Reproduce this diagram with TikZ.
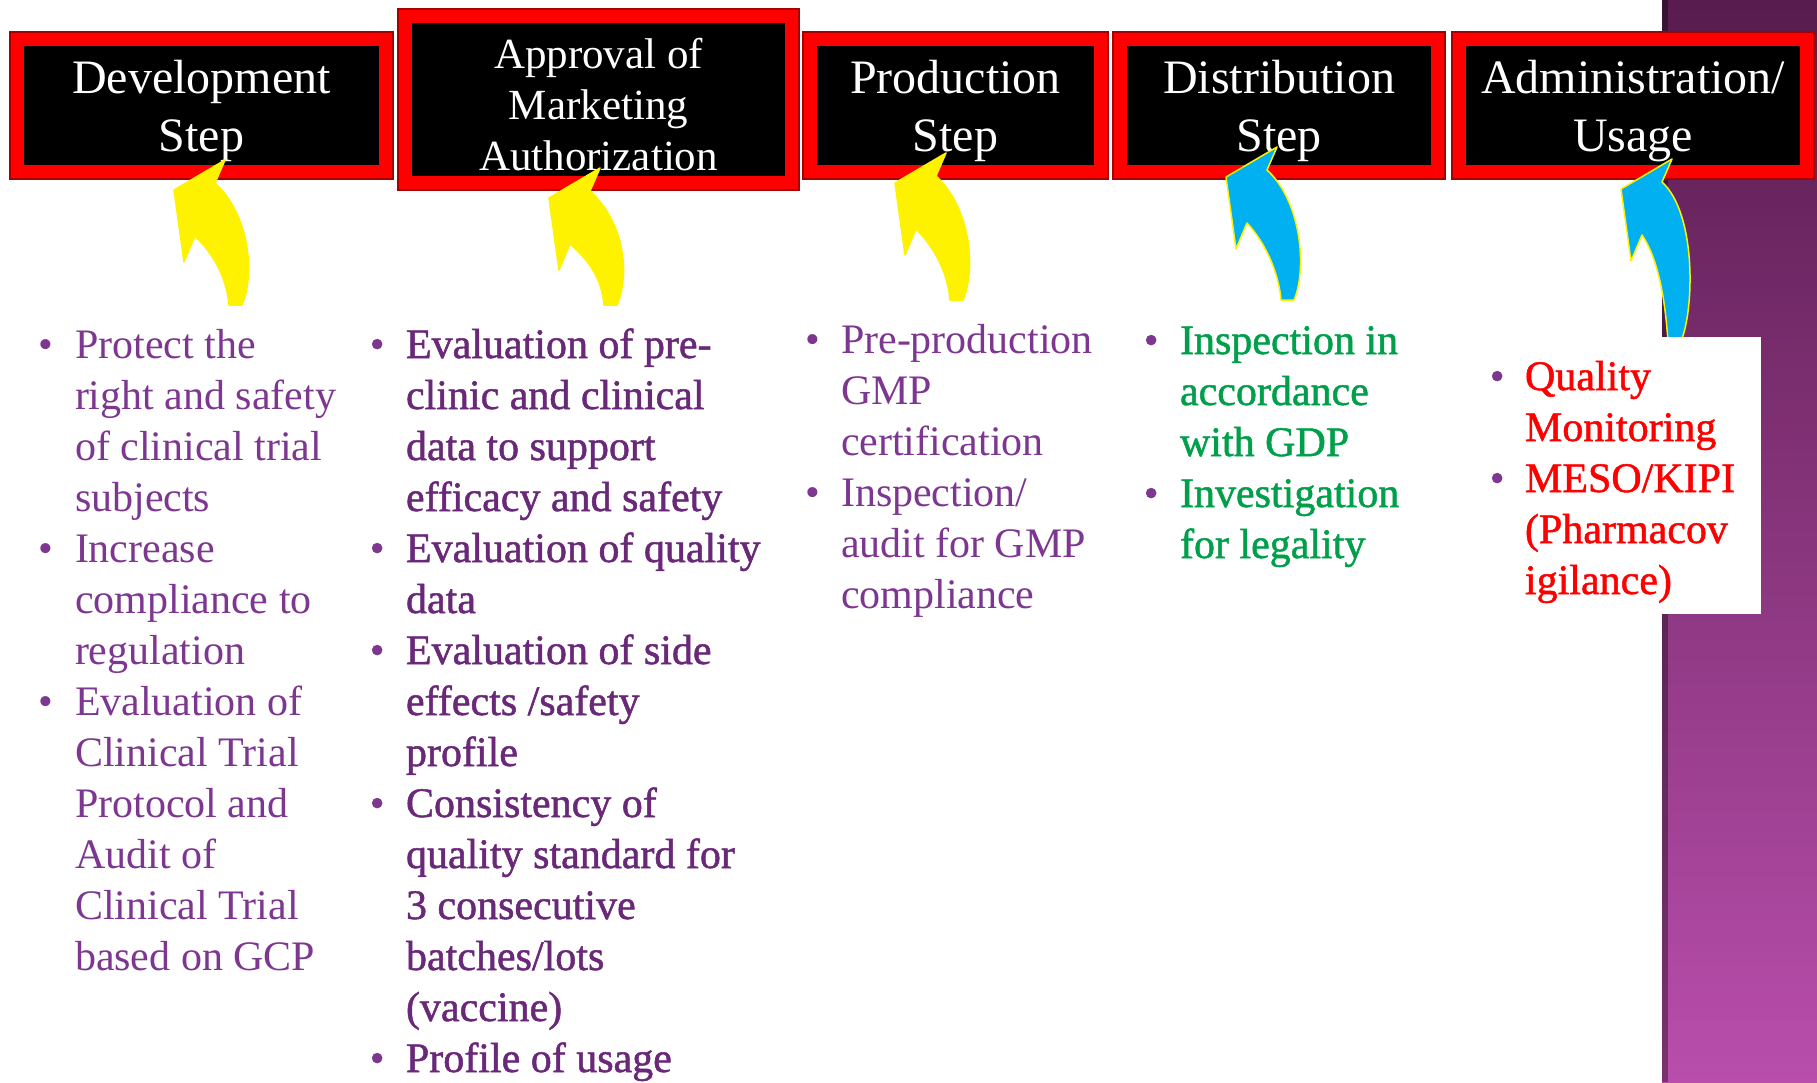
\documentclass[tikz,border=0pt]{standalone}
\usepackage{fontspec}
\setmainfont{Liberation Serif}
\newfontfamily\heavyfont[FakeBold=1.2]{Liberation Serif}

\definecolor{txtpurple}{RGB}{125,55,145}
\definecolor{darkpurple}{RGB}{105,40,120}
\definecolor{gdpgreen}{RGB}{0,160,75}
\definecolor{cyanarrow}{RGB}{0,176,240}
\definecolor{bandtop}{RGB}{88,28,78}
\definecolor{bandmid}{RGB}{130,50,118}
\definecolor{bandbot}{RGB}{185,78,172}

\newcommand{\itm}{{\color{txtpurple}\textbullet}}
\newcommand{\hstrut}[1]{\rule{0pt}{#1}}

\tikzstyle{hdr}  = [draw=red, line width=13pt, fill=black, inner sep=0pt, text=white, align=center,
                    font=\fontsize{48}{58}\selectfont, preaction={draw=red!65!black, line width=17pt}]
\tikzstyle{col}  = [inner sep=0pt, anchor=base west, font=\fontsize{42}{51}\selectfont]

\begin{document}
\begin{tikzpicture}[x=1pt, y=-1pt]
  \tikzstyle{body}=[col, text=txtpurple]
  \useasboundingbox (0,0) rectangle (1817,1082);
  \fill[white] (0,0) rectangle (1817,1082);
  % purple band on the right
  \shade[top color=bandtop, middle color=bandmid, bottom color=bandbot] (1662,0) rectangle (1817,1082);
  \fill[black, opacity=0.35] (1662,0) rectangle (1668,1082);

  % the five steps
  \draw
    node[hdr, minimum width=368pt, minimum height=132pt] (dev) at (201.5,105.5) {\hstrut{45pt}Development\\Step}
    node[hdr, font=\fontsize{43}{51}\selectfont, minimum width=386pt, minimum height=166pt] (appr) at (598.5,99.5) {\hstrut{40pt}Approval of\\Marketing\\Authorization}
    node[hdr, minimum width=290pt, minimum height=132pt] (prod) at (955.5,105.5) {\hstrut{45pt}Production\\Step}
    node[hdr, minimum width=317pt, minimum height=132pt] (dist) at (1279,105.5) {\hstrut{45pt}Distribution\\Step}
    node[hdr, minimum width=347pt, minimum height=132pt] (adm) at (1633,105.5) {\hstrut{45pt}Administration/\\Usage};

  % curved arrows
  \foreach \tx/\ty/\len/\bx/\col in {225/160/145/4/yellow, 600/168/137/4/yellow, 946/153/147/4/yellow,
                                     1277/147/153/4/cyanarrow, 1672/159/182/-4/cyanarrow}
    \filldraw[shift={(\tx,\ty)}, fill=\col, draw=yellow, line width=1.5pt, line join=round]
      (0,0) -- (-51,30) -- (-41,102) -- (-30,76)
      .. controls (-10,{76+(\len-76)*0.28}) and ({\bx-2},{\len-25}) .. (\bx,\len)
      -- ({\bx+13},\len)
      .. controls ({\bx+26},{\len-30}) and (25,55) .. (-10,23) -- cycle;

  \fill[white] (1466,337) rectangle (1761,614);

  % lists
  \node[body] (devlist) at (38.6,358) {\begin{tabular}[t]{@{}l@{\hspace{21.5pt}}l@{}}
    \itm & Protect the\\
         & right and safety\\
         & of clinical trial\\
         & subjects\\
    \itm & Increase\\
         & compliance to\\
         & regulation\\
    \itm & Evaluation of\\
         & Clinical Trial\\
         & Protocol and\\
         & Audit of\\
         & Clinical Trial\\
         & based on GCP
  \end{tabular}};
  \node[col, text=darkpurple] (apprlist) at (369.6,358) {\heavyfont\begin{tabular}[t]{@{}l@{\hspace{21.5pt}}l@{}}
    \itm & Evaluation of pre-\\
         & clinic and clinical\\
         & data to support\\
         & efficacy and safety\\
    \itm & Evaluation of quality\\
         & data\\
    \itm & Evaluation of side\\
         & effects /safety\\
         & profile\\
    \itm & Consistency of\\
         & quality standard for\\
         & 3 consecutive\\
         & batches/lots\\
         & (vaccine)\\
    \itm & Profile of usage
  \end{tabular}};
  \node[body] (prodlist) at (805.6,353) {\begin{tabular}[t]{@{}l@{\hspace{20.5pt}}l@{}}
    \itm & Pre-production\\
         & GMP\\
         & certification\\
    \itm & Inspection/\\
         & audit for GMP\\
         & compliance
  \end{tabular}};
  \node[col, text=gdpgreen] (distlist) at (1143.6,354) {\heavyfont\begin{tabular}[t]{@{}l@{\hspace{21.5pt}}l@{}}
    \itm & Inspection in\\
         & accordance\\
         & with GDP\\
    \itm & Investigation\\
         & for legality
  \end{tabular}};
  \node[col, text=red] (admlist) at (1489.6,390) {\heavyfont\begin{tabular}[t]{@{}l@{\hspace{20.5pt}}l@{}}
    \itm & Quality\\
         & Monitoring\\
    \itm & MESO/KIPI\\
         & (Pharmacov\\
         & igilance)
  \end{tabular}};
\end{tikzpicture}
\end{document}
